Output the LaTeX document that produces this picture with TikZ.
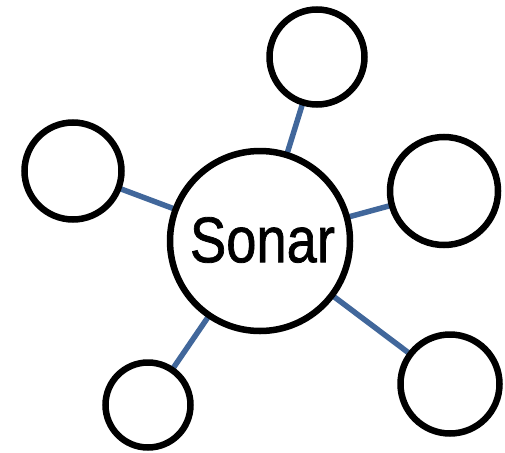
\documentclass[tikz,border=0pt]{standalone}
\usepackage{fontspec}
\newfontfamily\sonarfont[FakeBold=1.2]{Liberation Sans}
\definecolor{linkblue}{HTML}{41679B}
\begin{document}
\begin{tikzpicture}[x=1pt,y=-1pt,
  bubble/.style={circle,draw=black,line width=6.5pt,fill=white,inner sep=0pt,minimum size=#1},
  link/.style={draw=linkblue,line width=5.5pt}]
\useasboundingbox (0,0) rectangle (505,452);
\draw[link] (260,241) -- (317,57);
\draw[link] (260,241) -- (73,171);
\draw[link] (260,241) -- (444,191);
\draw[link] (260,241) -- (148,405);
\draw[link] (260,241) -- (450,384);
\node[bubble=180pt] (c) at (260,241) {};
\node at (262.5,240) {\resizebox{145pt}{45pt}{\sonarfont Sonar}};
\node[bubble=95pt] (t) at (317,57) {};
\node[bubble=97pt] (l) at (73,171) {};
\node[bubble=108pt] (r) at (444,191) {};
\node[bubble=85pt] (bl) at (148,405) {};
\node[bubble=99pt] (br) at (450,384) {};
\end{tikzpicture}
\end{document}
